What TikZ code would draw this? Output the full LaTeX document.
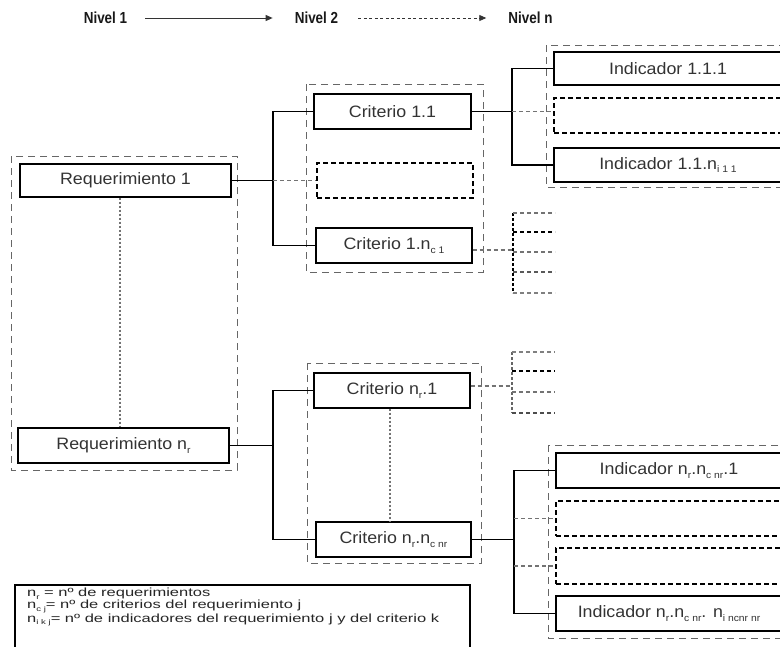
\documentclass[tikz,border=0pt]{standalone}
\usepackage{fontspec}
\setmainfont{Liberation Sans}
\newfontfamily\boxfont{Liberation Sans}[FakeStretch=1.08]
\newfontfamily\headfont{Liberation Sans}[FakeStretch=0.84]
\newfontfamily\legfont{Liberation Sans}[FakeStretch=1.4]
\usetikzlibrary{arrows.meta}
\newcommand{\sbx}[1]{\raisebox{-0.4ex}{\scalebox{0.58}{#1}}}
\tikzset{
  solidbox/.style={draw=black, line width=1.4pt, fill=white, inner sep=0pt,
    font=\boxfont\fontsize{16.5}{19}\selectfont, text=black!80},
  dashbox/.style={draw=black, line width=1.4pt, dash pattern=on 5pt off 3pt, inner sep=0pt},
  groupbox/.style={draw=black!60, line width=0.9pt, dash pattern=on 7pt off 5pt},
  link/.style={line width=1.2pt, black},
  dlink/.style={line width=1.1pt, black!55, dash pattern=on 4pt off 3pt},
  dlinkk/.style={line width=1.1pt, black, dash pattern=on 4pt off 3pt},
  vdots/.style={line width=1.2pt, black!55, dash pattern=on 2pt off 2pt},
  headtxt/.style={inner sep=0pt, font=\headfont\bfseries\fontsize{16}{19}\selectfont, text=black!90},
  headarrow/.style={line width=0.9pt, black!80, -{Triangle[length=7pt,width=6pt]}},
}
\begin{document}
\begin{tikzpicture}[x=1pt,y=-1pt]
\clip (0,0) rectangle (780,646);
\fill[white] (0,0) rectangle (780,646);

% header
\node[headtxt] (n1) at (105.5,18) {Nivel 1};
\node[headtxt] (n2) at (316.5,18) {Nivel 2};
\node[headtxt] (nn) at (530.5,18) {Nivel n};
\draw[headarrow, shorten <=18pt, shorten >=22pt] (n1) -- (n2);
\draw[headarrow, dash pattern=on 3pt off 2.5pt, shorten <=20pt, shorten >=22pt] (n2) -- (nn);

% group dashed boxes
\draw[groupbox] (11,156) rectangle (237,470);
\draw[groupbox] (306,84) rectangle (483,272);
\draw[groupbox] (546,45) rectangle (800,187);
\draw[groupbox] (307,363) rectangle (481,563);
\draw[groupbox] (548,445) rectangle (800,638);

% level 1
\node[solidbox, minimum width=211pt, minimum height=33pt] (req1) at (125.5,180.5) {Requerimiento 1};
\node[solidbox, minimum width=211pt, minimum height=35pt] (reqn) at (123.5,445.5) {Requerimiento n\sbx{r}};

% level 2 upper
\node[solidbox, minimum width=157pt, minimum height=35pt] (c11) at (392.5,111.5) {Criterio 1.1};
\node[dashbox, minimum width=156pt, minimum height=35pt] (cdash1) at (395,180.5) {};
\node[solidbox, minimum width=156pt, minimum height=35pt] (c1n) at (394,245.5) {Criterio 1.n\sbx{c 1}};

% level 2 lower
\node[solidbox, minimum width=156pt, minimum height=35pt] (cn1) at (392,390.5) {Criterio n\sbx{r}.1};
\node[solidbox, minimum width=155pt, minimum height=35pt] (cnn) at (393.5,539.5) {Criterio n\sbx{r}.n\sbx{c nr}};

% level n upper
\node[solidbox, minimum width=228pt, minimum height=33pt] (i111) at (668,68.5) {Indicador 1.1.1};
\node[dashbox, minimum width=228pt, minimum height=35pt] (idash1) at (668,115.5) {};
\node[solidbox, minimum width=228pt, minimum height=34pt] (i11n) at (668,165) {Indicador 1.1.n\sbx{i 1 1}};

% level n lower
\node[solidbox, minimum width=226pt, minimum height=35pt] (inn1) at (669,470.5) {Indicador n\sbx{r}.n\sbx{c nr}.1};
\node[dashbox, minimum width=226pt, minimum height=35pt] (idash2) at (669,518.5) {};
\node[dashbox, minimum width=226pt, minimum height=36pt] (idash3) at (669,566) {};
\node[solidbox, minimum width=226pt, minimum height=35pt] (innn) at (669,613.5) {Indicador n\sbx{r}.n\sbx{c nr}. n\sbx{i ncnr nr}};

% dotted verticals
\draw[vdots] ([xshift=-5.5pt]req1.south) -- ([xshift=-3.5pt]reqn.north);
\draw[vdots] ([xshift=-2pt]cn1.south) -- ([xshift=-3.5pt]cnn.north);

% connectors req1
\coordinate (j1) at (273,180.5);
\draw[link] (req1.east) -- (j1);
\draw[link] (c11.west) -| (j1) |- (c1n.west);
\draw[dlink] (j1) -- (cdash1.west);

% connectors c11
\coordinate (j2) at (512,111.5);
\draw[link] (c11.east) -- (j2);
\draw[link] (i111.west) -| (j2) |- (i11n.west);
\draw[dlink] (j2) -- (j2 -| idash1.west);

% stub group A
\coordinate (sa) at (513,250);
\coordinate (sa1) at (513,213);
\coordinate (sa5) at (513,293);
\draw[dlink] (c1n.east |- sa) -- (sa);
\draw[dlinkk, dash pattern=on 3pt off 2pt] (sa1) -- (sa5);
\foreach \yy/\cc in {213/black!55,232/black,252/black!55,272/black!65,293/black!50}
  \draw[dlink, draw=\cc] (513,\yy) -- (555,\yy);

% stub group B
\coordinate (sb) at (512,386);
\draw[dlink] (cn1.east |- sb) -- (sb);
\draw[dlinkk, dash pattern=on 3pt off 2pt, draw=black!60] (512,352) -- (512,413);
\foreach \yy/\cc in {352/black!50,371/black,392/black!55,413/black!70}
  \draw[dlink, draw=\cc] (512,\yy) -- (555,\yy);

% connectors reqn
\coordinate (j3) at (273,445.5);
\draw[link] (reqn.east) -- (j3);
\draw[link] (cn1.west) -| (j3) |- (cnn.west);

% connectors cnn
\coordinate (j4) at (514,539.5);
\draw[link] (cnn.east) -- (j4);
\draw[link] (inn1.west) -| (j4) |- (innn.west);
\draw[dlink] (j4 |- idash2.west) -- (idash2.west);
\draw[dlink] (j4 |- idash3.west) -- (idash3.west);

% legend
\draw[line width=1.4pt] (15,585) rectangle (470,670);
\node[anchor=north west, inner sep=0pt, align=left, text=black!85,
  font=\legfont\fontsize{11.8}{12}\selectfont] (legend) at (27,588)
  {n\sbx{r} = nº de requerimientos\\
   n\sbx{c j}= nº de criterios del requerimiento j\\
   n\sbx{i k j}= nº de indicadores del requerimiento j y del criterio k};
\end{tikzpicture}
\end{document}
